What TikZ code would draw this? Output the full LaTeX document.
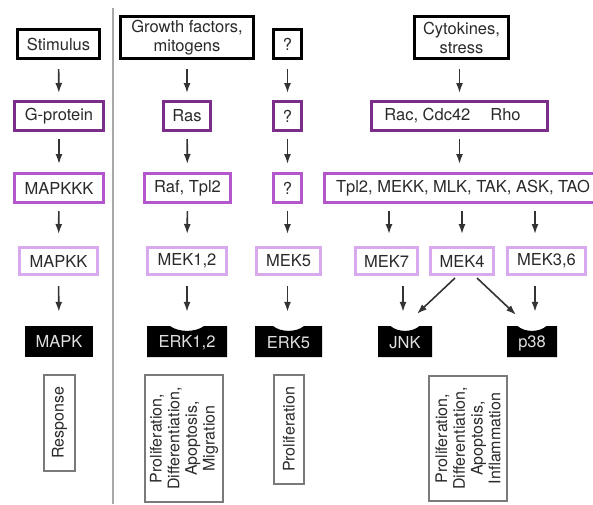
\documentclass[tikz,border=0pt]{standalone}
\usepackage{fontspec}
\setmainfont{TeX Gyre Heros}
\usetikzlibrary{arrows.meta,calc}
\definecolor{pA}{HTML}{7A2E8A}
\definecolor{pB}{HTML}{B456CC}
\definecolor{pC}{HTML}{D9A9EE}
\definecolor{txt}{HTML}{2A2A2A}
\definecolor{gbox}{HTML}{7A7A7A}
\definecolor{sep}{HTML}{A8A8A8}
\newcommand\notchfill[5]{% cx, cy, w, h, notch width
  \fill[black] ({#1-#3/2},{#2-#4/2}) -- ({#1-#5/2},{#2-#4/2})
    .. controls ({#1-#5/4},{#2-#4/2+6.5}) and ({#1+#5/4},{#2-#4/2+6.5}) .. ({#1+#5/2},{#2-#4/2})
    -- ({#1+#3/2},{#2-#4/2}) -- ({#1+#3/2},{#2+#4/2}) -- ({#1-#3/2},{#2+#4/2}) -- cycle;}
\begin{document}
\begin{tikzpicture}[x=1pt,y=-1pt,
  base/.style={inner sep=0pt, text=txt, font=\fontsize{16.5}{19}\selectfont, align=center},
  srcbox/.style={base, draw=black, line width=3pt},
  lvA/.style={base, draw=pA, line width=3pt},
  lvB/.style={base, draw=pB, line width=3pt},
  lvC/.style={base, draw=pC, line width=3pt},
  kbox/.style={base, text=black!12},
  outbox/.style={base, draw=gbox, line width=2.4pt, rotate=90, font=\fontsize{16}{17.7}\selectfont},
  arr/.style={draw=black!80, line width=1.6pt, -{Latex[length=10pt,width=7pt]}, shorten <=9pt, shorten >=7pt},
  arrB/.style={arr, shorten <=7pt, shorten >=12pt},
  arrC/.style={arr, shorten <=10pt, shorten >=14pt}]
\useasboundingbox (0,0) rectangle (593,504);
\fill[white] (0,0) rectangle (593,504);
\clip (0,0) rectangle (593,504);

% separator
\draw[sep, line width=1.8pt] (113,8) -- (113,504);

% row 1
\node[srcbox, minimum width=82pt, minimum height=29pt] (stim) at (58.5,44) {Stimulus};
\node[srcbox, minimum width=133pt, minimum height=42pt] (growth) at (187,37.5) {Growth factors,\\mitogens};
\node[srcbox, minimum width=28pt, minimum height=29pt] (q1) at (287.5,44) {?};
\node[srcbox, minimum width=94pt, minimum height=42pt] (cyto) at (461.5,37.5) {Cytokines,\\stress};

% row 2
\node[lvA, minimum width=89pt, minimum height=29pt] (gprot) at (59,116) {G-protein};
\node[lvA, minimum width=47pt, minimum height=29pt] (ras) at (187,116) {Ras};
\node[lvA, minimum width=28pt, minimum height=29pt] (q2) at (287.5,116) {?};
\node[lvA, minimum width=176pt, minimum height=29pt] (rac) at (459.5,116) {Rac, Cdc42\hspace{20pt}Rho\hspace{14pt}};

% row 3
\node[lvB, minimum width=89pt, minimum height=29pt] (mapkkk) at (59,188) {MAPKKK};
\node[lvB, minimum width=86pt, minimum height=29pt] (raf) at (187.5,188) {Raf, Tpl2};
\node[lvB, minimum width=28pt, minimum height=29pt] (q3) at (287.5,188) {?};
\node[lvB, minimum width=277pt, minimum height=29pt] (tpl) at (463,188) {Tpl2, MEKK, MLK, TAK, ASK, TAO};

% row 4
\node[lvC, minimum width=78pt, minimum height=27pt] (mapkk) at (58.5,261) {MAPKK};
\node[lvC, minimum width=79pt, minimum height=27pt] (mek12) at (187,261) {MEK1,2};
\node[lvC, minimum width=64pt, minimum height=27pt] (mek5) at (288.5,261) {MEK5};
\node[lvC, minimum width=62pt, minimum height=27pt] (mek7) at (386.5,261) {MEK7};
\node[lvC, minimum width=63pt, minimum height=27pt] (mek4) at (462,261) {MEK4};
\node[lvC, minimum width=78pt, minimum height=27pt] (mek36) at (546.5,261) {MEK3,6};

% row 5 (MAPKs)
\fill[black] (25,326) rectangle (93,357);
\node[kbox, minimum width=68pt, minimum height=31pt] (mapk) at (59,341.5) {MAPK};
\notchfill{187}{341.5}{80}{31}{34}
\node[kbox, minimum width=80pt, minimum height=28pt] (erk12) at (187,343) {ERK1,2};
\notchfill{288.5}{341.5}{67}{31}{31}
\node[kbox, minimum width=67pt, minimum height=28pt] (erk5) at (288.5,343) {ERK5};
\notchfill{405}{341.5}{54}{31}{29}
\node[kbox, minimum width=54pt, minimum height=28pt] (jnk) at (405,343) {JNK};
\notchfill{532}{341.5}{50}{31}{29}
\node[kbox, minimum width=50pt, minimum height=28pt] (p38) at (532,343) {p38};

% row 6 (responses)
\node[outbox, minimum width=95.6pt, minimum height=30.6pt] (resp) at (59.5,423) {Response};
\node[outbox, minimum width=126.6pt, minimum height=77.6pt] (out1) at (184,438.5) {Proliferation,\\Differentiation,\\Apoptosis,\\Migration};
\node[outbox, minimum width=108.6pt, minimum height=29.6pt] (out2) at (289,429.5) {Proliferation};
\node[outbox, minimum width=124.6pt, minimum height=77.6pt] (out3) at (468,438.5) {Proliferation,\\Differentiation,\\Apoptosis,\\Inflammation};

% helper x positions
\coordinate (c7) at (389,0);
\coordinate (cj) at (403,0);
\coordinate (c36) at (535,0);

% arrows column 1
\draw[arr] (stim) -- (gprot);
\draw[arr, shorten <=7pt, shorten >=8pt] (gprot) -- (mapkkk);
\draw[arrB] (mapkkk) -- (mapkk);
\draw[arrC] (mapkk.south) -- (mapk.north);
% column 2
\draw[arr] (growth) -- (ras);
\draw[arr, shorten <=7pt, shorten >=8pt] (ras) -- (raf);
\draw[arrB] (raf) -- (mek12);
\draw[arrC] (mek12.south) -- (mapk.north -| mek12.south);
% column 3
\draw[arr] (q1) -- (q2);
\draw[arr, shorten <=7pt, shorten >=8pt] (q2) -- (q3);
\draw[arrB] (q3) -- (q3 |- mek5.north);
\draw[arrC] (mek5.south -| q3) -- (mapk.north -| q3);
% column 4
\draw[arr] (cyto.south -| rac.north) -- (rac.north);
\draw[arr, shorten <=7pt, shorten >=8pt] (rac.south) -- (tpl.north -| rac.south);
\draw[arrB] (tpl.south -| c7) -- (mek7.north -| c7);
\draw[arrB] (tpl.south -| mek4.north) -- (mek4.north);
\draw[arrB] (tpl.south -| c36) -- (mek36.north -| c36);
\draw[arrC] (mek7.south -| cj) -- (mapk.north -| cj);
\draw[arr, shorten <=0pt, shorten >=0pt] ($(mek4.south)+(-7,2)$) -- ($(jnk.north)+(12,-15)$);
\draw[arr, shorten <=0pt, shorten >=0pt] ($(mek4.south)+(15,2)$) -- ($(p38.north)+(-16,-14)$);
\draw[arrC] (mek36.south -| c36) -- (mapk.north -| c36);
\end{tikzpicture}
\end{document}
